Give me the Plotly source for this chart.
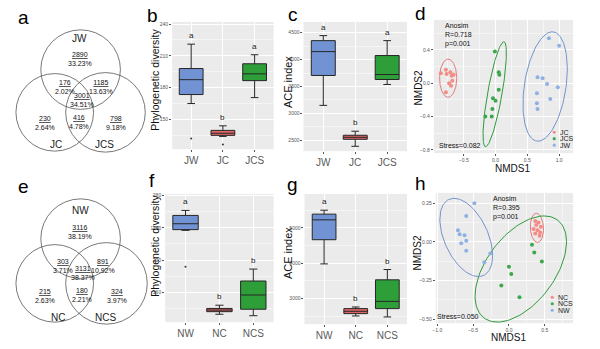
import numpy as np
import plotly.graph_objects as go

W, H = 600, 349
def px(x): return x / W
def py(y): return 1 - y / H

FONT = "Liberation Sans"

# ---------------- data ----------------
# Venn a (JW, JC, JCS): JW only, JW&JC, JW&JCS, all, JC only, JC&JCS, JCS only
venn_a_sets = ["JW", "JC", "JCS"]
venn_a_counts = [2890, 176, 1185, 3001, 230, 416, 798]
venn_a_pcts = ["33.23%", "2.02%", "13.63%", "34.51%", "2.64%", "4.78%", "9.18%"]
# Venn e (NW, NC, NCS)
venn_e_sets = ["NW", "NC", "NCS"]
venn_e_counts = [3116, 303, 891, 3131, 215, 180, 324]
venn_e_pcts = ["38.19%", "3.71%", "10.92%", "38.37%", "2.63%", "2.21%", "3.97%"]

# Panel b: phylogenetic diversity (J groups)
groups_j = ["JW", "JC", "JCS"]
pd_j_lo = [165.0, 134.0, 170.6]
pd_j_q1 = [173.5, 135.0, 186.6]
pd_j_med = [187.5, 137.0, 193.0]
pd_j_q3 = [198.0, 139.7, 202.5]
pd_j_hi = [221.0, 144.0, 211.0]
pd_j_out_x = ["JW", "JC"]
pd_j_out_y = [132.0, 126.5]
pd_j_letters = ["a", "b", "a"]

# Panel c: ACE index (J groups)
ace_j_lo = [3150, 2390, 3538]
ace_j_q1 = [3705, 2520, 3630]
ace_j_med = [4148, 2557, 3723]
ace_j_q3 = [4352, 2595, 4075]
ace_j_hi = [4445, 2670, 4352]
ace_j_letters = ["a", "b", "a"]

# Panel f: phylogenetic diversity (N groups)
groups_n = ["NW", "NC", "NCS"]
pd_n_lo = [236.8, 132.8, 131.0]
pd_n_q1 = [237.7, 136.0, 139.0]
pd_n_med = [245.0, 138.0, 156.7]
pd_n_q3 = [255.3, 140.0, 174.0]
pd_n_hi = [261.5, 144.0, 188.8]
pd_n_out_x = ["NW"]
pd_n_out_y = [191.6]
pd_n_letters = ["a", "b", "b"]

# Panel g: ACE index (N groups)
ace_n_lo = [3977, 2502, 2474]
ace_n_q1 = [4662, 2569, 2710]
ace_n_med = [5225, 2634, 2915]
ace_n_q3 = [5386, 2710, 3526]
ace_n_hi = [5498, 2756, 3817]
ace_n_letters = ["a", "b", "b"]

# Panel d: NMDS (J groups)
nmds_d_JC_x = [-0.86, -0.78, -0.77, -0.71, -0.69, -0.66, -0.68, -0.73, -0.70, -0.78]
nmds_d_JC_y = [0.12, 0.16, 0.11, 0.13, 0.09, 0.10, 0.03, 0.00, -0.03, -0.11]
nmds_d_JCS_x = [-0.01, 0.05, 0.06, 0.05, -0.04, 0.00, -0.05, -0.06, -0.16]
nmds_d_JCS_y = [0.38, 0.13, 0.10, -0.08, -0.18, -0.21, -0.31, -0.40, -0.40]
nmds_d_JW_x = [0.84, 1.00, 0.66, 0.74, 0.81, 0.98, 0.65, 0.86, 0.65, 0.66]
nmds_d_JW_y = [0.54, 0.45, 0.07, 0.06, -0.01, -0.05, -0.12, -0.19, -0.24, -0.31]
# ellipse parameters: centre, top half-axis vector, horizontal half-width
ell_d_center = [(-0.745, 0.06), (-0.013, -0.133), (0.78, -0.04)]
ell_d_v1 = [(0.0, 0.229), (0.143, 0.631), (0.112, 0.657)]
ell_d_w = [0.135, 0.115, 0.33]
anosim_d = ["Anosim", "R=0.718", "p=0.001"]
stress_d = "Stress=0.082"

# Panel h: NMDS (N groups)
nmds_h_NC_x = [0.367, 0.413, 0.381, 0.445, 0.344, 0.399, 0.436, 0.367, 0.427]
nmds_h_NC_y = [0.135, 0.124, 0.109, 0.097, 0.082, 0.075, 0.060, 0.054, 0.039]
nmds_h_NCS_x = [0.321, 0.353, 0.459, 0.000, 0.032, -0.106, 0.147]
nmds_h_NCS_y = [-0.019, -0.069, -0.127, -0.161, -0.208, -0.283, -0.358]
nmds_h_NW_x = [-0.482, -0.596, -0.711, -0.688, -0.619, -0.665, -0.596, -0.596, -0.261, -0.344]
nmds_h_NW_y = [0.249, 0.167, 0.075, 0.049, 0.043, -0.009, 0.006, -0.058, -0.075, -0.133]
ell_h_center = [(0.39, 0.09), (0.165, -0.176), (-0.596, 0.028)]
ell_h_v1 = [(-0.009, 0.094), (0.326, 0.343), (-0.170, 0.253)]
ell_h_w = [0.092, 0.548, 0.326]
anosim_h = ["Anosim", "R=0.395", "p=0.001"]
stress_h = "Stress=0.050"

# ---------------- style ----------------
BOX_FILL = ["#7193D3", "#E06666", "#2E9E38"]
PT_COL = ["#F28C84", "#3BA84E", "#8FB0E3"]
ELL_COL = ["#E27B7B", "#2F9A3C", "#7394CC"]

fig = go.Figure()

def axis_style(domain, rng, dtick=None, tick0=None, cat=False):
    d = dict(domain=domain, range=rng, showgrid=True, gridcolor="white", gridwidth=1,
             zeroline=False, showline=False, ticks="outside", ticklen=2,
             tickcolor="#555", tickwidth=0.6, fixedrange=True,
             tickfont=dict(family=FONT, size=5, color="#555"))
    if cat:
        d["tickfont"] = dict(family=FONT, size=10, color="#5a5a5a")
        d["type"] = "category"
    else:
        d["dtick"] = dtick
        d["tick0"] = tick0
        d["minor"] = dict(dtick=dtick / 2, tick0=tick0, showgrid=True,
                          gridcolor="#F5F5F5", gridwidth=0.5, ticks="")
    return d

def add_boxes(xa, ya, groups, lo, q1, med, q3, hi, letters, out_x=None, out_y=None):
    for i, g in enumerate(groups):
        fig.add_trace(go.Box(x=[g], lowerfence=[lo[i]], q1=[q1[i]], median=[med[i]],
                             q3=[q3[i]], upperfence=[hi[i]], fillcolor=BOX_FILL[i],
                             line=dict(color="#262626", width=1), width=0.75,
                             whiskerwidth=0.32, boxpoints=False, showlegend=False,
                             xaxis=xa, yaxis=ya, hoverinfo="skip"))
        fig.add_annotation(x=g, y=hi[i], xref=xa, yref=ya, text=letters[i],
                           showarrow=False, yanchor="bottom", yshift=2,
                           font=dict(family=FONT, size=8, color="#222"))
    if out_x:
        fig.add_trace(go.Scatter(x=out_x, y=out_y, mode="markers",
                                 marker=dict(size=2, color="#333"), showlegend=False,
                                 xaxis=xa, yaxis=ya, hoverinfo="skip"))

def ellipse(c, v1, w, n=120):
    t = np.linspace(0, 2 * np.pi, n)
    return c[0] + v1[0] * np.cos(t) + w * np.sin(t), c[1] + v1[1] * np.cos(t)

def add_nmds(xa, ya, xs, ys, centers, v1s, ws):
    for i in range(3):
        ex, ey = ellipse(centers[i], v1s[i], ws[i])
        fig.add_trace(go.Scatter(x=ex, y=ey, mode="lines",
                                 line=dict(color=ELL_COL[i], width=1), showlegend=False,
                                 xaxis=xa, yaxis=ya, hoverinfo="skip"))
        fig.add_trace(go.Scatter(x=xs[i], y=ys[i], mode="markers",
                                 marker=dict(size=4, color=PT_COL[i]), showlegend=False,
                                 xaxis=xa, yaxis=ya, hoverinfo="skip"))

# panel b
add_boxes("x", "y", groups_j, pd_j_lo, pd_j_q1, pd_j_med, pd_j_q3, pd_j_hi,
          pd_j_letters, pd_j_out_x, pd_j_out_y)
# panel c
add_boxes("x2", "y2", groups_j, ace_j_lo, ace_j_q1, ace_j_med, ace_j_q3, ace_j_hi,
          ace_j_letters)
# panel d
add_nmds("x3", "y3", [nmds_d_JC_x, nmds_d_JCS_x, nmds_d_JW_x],
         [nmds_d_JC_y, nmds_d_JCS_y, nmds_d_JW_y], ell_d_center, ell_d_v1, ell_d_w)
# panel f
add_boxes("x4", "y4", groups_n, pd_n_lo, pd_n_q1, pd_n_med, pd_n_q3, pd_n_hi,
          pd_n_letters, pd_n_out_x, pd_n_out_y)
# panel g
add_boxes("x5", "y5", groups_n, ace_n_lo, ace_n_q1, ace_n_med, ace_n_q3, ace_n_hi,
          ace_n_letters)
# panel h
add_nmds("x6", "y6", [nmds_h_NC_x, nmds_h_NCS_x, nmds_h_NW_x],
         [nmds_h_NC_y, nmds_h_NCS_y, nmds_h_NW_y], ell_h_center, ell_h_v1, ell_h_w)

layout = dict(
    width=W, height=H, margin=dict(l=0, r=0, t=0, b=0),
    paper_bgcolor="white", plot_bgcolor="#EBEBEB", showlegend=False,
    xaxis=axis_style([px(170), px(272)], [-0.6, 2.6], cat=True),
    yaxis=axis_style([py(148), py(20)], [122, 242], 30, 150),
    xaxis2=axis_style([px(302), px(406)], [-0.62, 2.62], cat=True),
    yaxis2=axis_style([py(150), py(20)], [2300, 4700], 500, 2500),
    xaxis3=axis_style([px(433), px(573)], [-0.97, 1.22], 0.5, -0.5),
    yaxis3=axis_style([py(152), py(18)], [-0.84, 0.76], 0.4, -0.8),
    xaxis4=axis_style([px(163), px(272)], [-0.6, 2.6], cat=True),
    yaxis4=axis_style([py(322), py(193)], [123, 282], 40, 160),
    xaxis5=axis_style([px(303), px(406)], [-0.62, 2.62], cat=True),
    yaxis5=axis_style([py(324), py(193)], [2270, 5960], 1000, 3000),
    xaxis6=axis_style([px(435), px(573)], [-1.02, 0.895], 0.5, -1.0),
    yaxis6=axis_style([py(323), py(192)], [-0.526, 0.316], 0.25, -0.5),
)
for i in range(2, 7):
    layout[f"xaxis{i}"]["anchor"] = f"y{i}"
    layout[f"yaxis{i}"]["anchor"] = f"x{i}"
layout["xaxis"]["anchor"] = "y"
layout["yaxis"]["anchor"] = "x"
layout["yaxis3"]["tickformat"] = ".1f"
layout["xaxis3"]["tickformat"] = ".1f"
layout["xaxis6"]["tickformat"] = ".1f"
layout["yaxis6"]["tickformat"] = ".2f"
fig.update_layout(**layout)

shapes = []
annots = []

def txt(x, y, s, size, angle=0, xanchor="center", color="#111", align="center"):
    annots.append(dict(x=px(x), y=py(y), xref="paper", yref="paper", text=s,
                       showarrow=False, xanchor=xanchor, yanchor="middle",
                       textangle=angle, align=align,
                       font=dict(family=FONT, size=size, color=color)))

# panel letters
for lab, x, y in [("a", 21, 16), ("b", 150, 14), ("c", 291, 13), ("d", 420, 12),
                  ("e", 21, 186), ("f", 150, 180), ("g", 291, 184), ("h", 420, 183)]:
    txt(x, y, lab, 19, color="#000")

# Venn diagrams
def venn(sets, counts, pcts, circ, pos, labpos):
    for (cx, cy, r) in circ:
        shapes.append(dict(type="circle", xref="paper", yref="paper",
                           x0=px(cx - r), x1=px(cx + r), y0=py(cy + r), y1=py(cy - r),
                           line=dict(color="#555", width=0.8)))
    for (x, y), c, p in zip(pos, counts, pcts):
        txt(x, y, f"<u>{c}</u><br>{p}", 7, color="#111")
    for (x, y), s in zip(labpos, sets):
        txt(x, y, s, 10, color="#222")

venn(venn_a_sets, venn_a_counts, venn_a_pcts,
     [(78, 68, 40), (52, 111, 39), (103, 111, 40)],
     [(77, 57.5), (62, 85), (98, 85), (79, 98.5), (42, 121.5), (76, 121), (114, 121.5)],
     [(77, 37), (53, 143), (102, 143)])
venn(venn_e_sets, venn_e_counts, venn_e_pcts,
     [(78, 238, 40), (52, 283, 39), (104, 283, 41)],
     [(77, 231.5), (60, 266), (100, 266), (80, 273), (42, 296), (79, 295), (115, 296)],
     [(78, 210), (55, 317), (103, 317)])

# axis titles
txt(152, 78, "Phylogenetic diversity", 10.5, angle=-90, color="#111")
txt(152, 245, "Phylogenetic diversity", 10.5, angle=-90, color="#111")
txt(286, 81, "ACE index", 11, angle=-90, color="#111")
txt(286, 253, "ACE index", 11, angle=-90, color="#111")
txt(418, 86, "NMDS2", 10, angle=-90, color="#111")
txt(417, 252, "NMDS2", 10, angle=-90, color="#111")
txt(512, 167, "NMDS1", 10, color="#111")
txt(508, 337, "NMDS1", 10, color="#111")

# NMDS annotations
txt(442, 33, "<br>".join(anosim_d), 7, xanchor="left", align="left")
txt(436, 144, stress_d, 7, xanchor="left")
txt(490, 207, "<br>".join(anosim_h), 7, xanchor="left", align="left")
txt(434, 316, stress_h, 7, xanchor="left")

# manual legends
def legend(x, y0, names):
    for i, n in enumerate(names):
        y = y0 + 6.5 * i
        shapes.append(dict(type="circle", xref="paper", yref="paper",
                           x0=px(x - 1.6), x1=px(x + 1.6), y0=py(y + 1.6), y1=py(y - 1.6),
                           fillcolor=PT_COL[i], line=dict(width=0)))
        txt(x + 3.5, y, n, 7, xanchor="left", color="#222")

legend(554, 131, groups_j[1:] + groups_j[:1])
legend(552, 297, groups_n[1:] + groups_n[:1])

fig.update_layout(shapes=shapes, annotations=list(fig.layout.annotations) + annots)
fig.write_html("out.html")
